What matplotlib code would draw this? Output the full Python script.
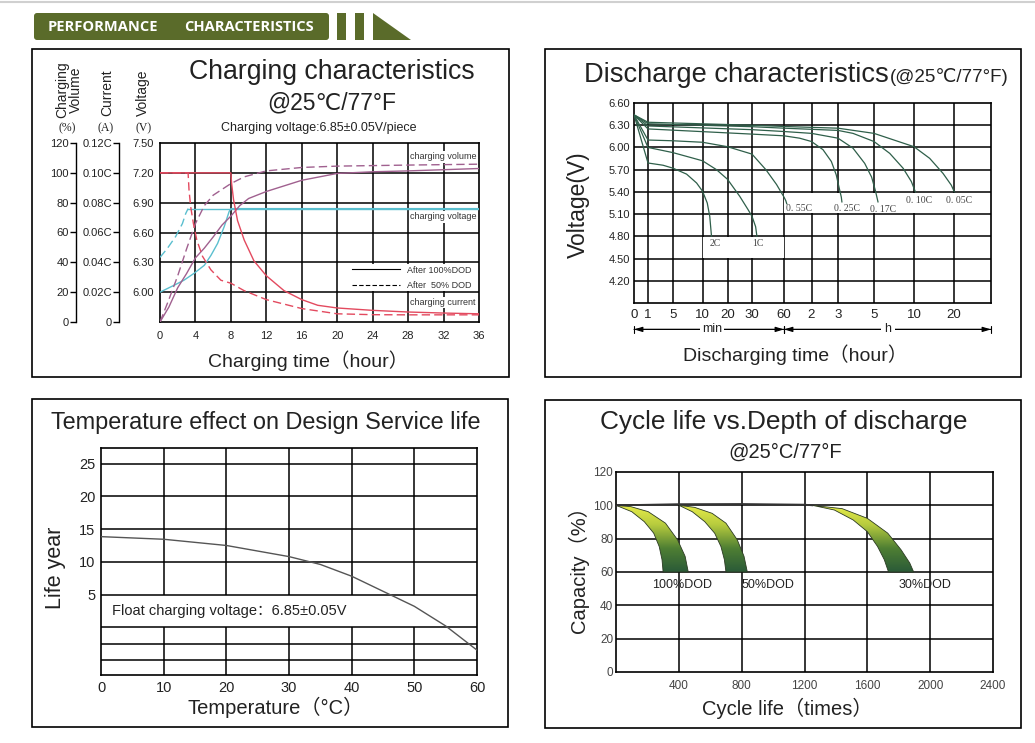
import numpy as np
import matplotlib
matplotlib.use("Agg")
import matplotlib.pyplot as plt
import matplotlib.transforms as mtransforms
from matplotlib.patches import Rectangle, Polygon, FancyBboxPatch
from matplotlib.lines import Line2D
from matplotlib.colors import LinearSegmentedColormap

plt.rcParams['font.family'] = ['Liberation Sans', 'DejaVu Sans', 'Noto Sans CJK SC']

# ---------------- charging characteristics ----------------
chg_hours = [0, 4, 8, 12, 16, 20, 24, 28, 32, 36]
chg_volt_ticks = [6.00, 6.30, 6.60, 6.90, 7.20, 7.50]
chg_vol_ticks = [0, 20, 40, 60, 80, 100, 120]
chg_cur_ticks = [0, 0.02, 0.04, 0.06, 0.08, 0.10, 0.12]
chg_cur_labels = ['0', '0.02C', '0.04C', '0.06C', '0.08C', '0.10C', '0.12C']

cur100_hr = [0, 8, 8.08, 8.3, 8.75, 9.5, 10.6, 12, 14, 16, 17.8, 20, 24, 28, 32, 36]
cur100_c = [0.100, 0.100, 0.093, 0.082, 0.068, 0.055, 0.041, 0.031, 0.021, 0.015,
            0.0112, 0.0094, 0.0078, 0.0067, 0.0060, 0.0055]
cur50_hr = [0, 3.17, 3.28, 3.47, 3.77, 4.15, 4.8, 5.74, 6.87, 8, 9.5, 12, 16, 20, 24, 28, 36]
cur50_c = [0.100, 0.100, 0.088, 0.077, 0.066, 0.055, 0.044, 0.035, 0.028, 0.026,
           0.021, 0.015, 0.009, 0.0055, 0.0049, 0.0048, 0.0048]
volt100_hr = [0, 1.6, 2.7, 3.85, 5.0, 5.75, 6.5, 7.25, 7.8, 8, 36]
volt100_v = [6.00, 6.07, 6.12, 6.19, 6.27, 6.37, 6.49, 6.66, 6.81, 6.84, 6.84]
volt50_hr = [0, 0.83, 1.77, 2.53, 2.9, 3.17, 36]
volt50_v = [6.35, 6.44, 6.56, 6.69, 6.79, 6.84, 6.84]
vol100_hr = [0, 1, 2, 3, 4, 5, 6, 7, 8, 9, 10, 12, 16, 20, 24, 28, 36]
vol100_pct = [0, 10, 23, 32.5, 43, 49.5, 57, 65, 71, 78, 82.8, 87.5, 95, 99.6, 100.7, 101.3, 102.9]
vol50_hr = [0, 1, 2, 3, 4, 5, 6, 8, 9.5, 12, 16, 20, 28, 36]
vol50_pct = [0, 15, 31, 49, 66, 78, 85, 92.8, 97.3, 101.3, 103.6, 104.5, 105.2, 105.8]

# ---------------- discharge characteristics (minutes / V) ----------------
dis_ticks_min = [0, 1, 5, 10, 20, 30, 60, 120, 180, 300, 600, 1200]
dis_tick_labels = ['0', '1', '5', '10', '20', '30', '60', '2', '3', '5', '10', '20']
dis_volt_ticks = [4.20, 4.50, 4.80, 5.10, 5.40, 5.70, 6.00, 6.30, 6.60]
# position of each tick along the (non uniform) printed axis
scale_min = [0, 1, 5, 10, 20, 30, 60, 120, 180, 300, 600, 1200, 2400]
scale_pos = [0, 14, 39, 68.5, 93.5, 118, 150, 177.5, 204, 240, 280, 320, 357]

t_2c = [0, 1, 3.4, 5, 7.3, 9, 10, 11.9, 12.9, 13.6]
v_2c = [6.44, 5.79, 5.76, 5.72, 5.64, 5.52, 5.41, 5.25, 5.07, 4.80]
t_1c = [0, 1, 5, 10, 15.6, 20, 25, 28.4, 30, 33.4, 34.6]
v_1c = [6.44, 6.00, 5.93, 5.82, 5.70, 5.57, 5.34, 5.16, 5.07, 4.93, 4.80]
t_055c = [0, 1, 5, 10, 20, 30, 43, 53, 60, 64, 66]
v_055c = [6.44, 6.10, 6.09, 6.07, 6.01, 5.91, 5.70, 5.50, 5.33, 5.28, 5.24]
t_025c = [0, 1, 30, 60, 94, 120, 146, 165, 176, 183, 191, 193]
v_025c = [6.44, 6.25, 6.18, 6.157, 6.125, 6.08, 5.97, 5.81, 5.63, 5.47, 5.33, 5.265]
t_017c = [0, 1, 30, 60, 120, 180, 230, 269, 292, 310, 330]
v_017c = [6.44, 6.29, 6.24, 6.215, 6.19, 6.125, 5.99, 5.785, 5.60, 5.42, 5.265]
t_010c = [0, 1, 30, 60, 180, 230, 300, 418, 518, 580, 621]
v_010c = [6.44, 6.32, 6.28, 6.26, 6.23, 6.19, 6.08, 5.92, 5.72, 5.54, 5.40]
t_005c = [0, 1, 30, 60, 180, 300, 600, 835, 1035, 1160, 1210]
v_005c = [6.44, 6.34, 6.30, 6.283, 6.26, 6.19, 6.01, 5.853, 5.65, 5.49, 5.40]
dis_names = ['2C', '1C', '0. 55C', '0. 25C', '0. 17C', '0. 10C', '0. 05C']
dis_label_t = [12.9, 30, 64, 170, 286, 538, 1076]
dis_label_v = [4.71, 4.71, 5.18, 5.18, 5.165, 5.285, 5.285]

# ---------------- temperature effect ----------------
temp_ticks = [0, 10, 20, 30, 40, 50, 60]
life_ticks = [5, 10, 15, 20, 25]
life_grid = [25, 20, 15, 10, 5, 0, -2.5, -5]
temp_c = [0, 10, 20, 30, 35, 40, 45, 50, 55, 60]
life_yr = [13.85, 13.45, 12.5, 10.8, 9.6, 7.8, 5.5, 3.2, 0.2, -3.5]

# ---------------- cycle life ----------------
cyc_ticks = [400, 800, 1200, 1600, 2000, 2400]
cap_ticks = [0, 20, 40, 60, 80, 100, 120]
top_x = [0, 400, 800, 1200, 1250]
top_y = [100, 100.7, 100.8, 100.4, 100]
dod100_outer_x = [0, 95, 205, 315, 392, 440, 460]
dod100_outer_y = [100, 99.2, 96.2, 89.3, 79.3, 69.4, 60]
dod100_inner_x = [0, 100, 180, 240, 275, 293, 300]
dod100_inner_y = [100, 96.2, 90.2, 83.3, 75.3, 67.4, 60]
dod50_outer_x = [401, 500, 612, 700, 772, 815, 836]
dod50_outer_y = [100, 98.8, 95.2, 89.3, 79.3, 69.4, 60]
dod50_inner_x = [401, 485, 565, 628, 668, 690, 700]
dod50_inner_y = [100, 96.2, 90.2, 83.3, 75.3, 67.4, 60]
dod30_outer_x = [1250, 1440, 1600, 1730, 1815, 1870, 1895]
dod30_outer_y = [100, 98, 92.2, 83.3, 73.3, 65.4, 60]
dod30_inner_x = [1250, 1390, 1510, 1600, 1665, 1708, 1735]
dod30_inner_y = [100, 97.2, 91.2, 84.2, 75.3, 67.4, 60]
dod_names = ['100%DOD', '50%DOD', '30%DOD']
dod_label_x = [418, 966, 1964]
dod_label_y = [52.2, 52.2, 52.2]

# ---------------- figure ----------------
W, H = 1035, 743
fig = plt.figure(figsize=(W / 100, H / 100), dpi=100)
bg = fig.add_axes([0, 0, 1, 1])
bg.set_xlim(0, W)
bg.set_ylim(H, 0)
bg.axis('off')


def px_axes(x0, y0, x1, y1):
    return fig.add_axes([x0 / W, 1 - y1 / H, (x1 - x0) / W, (y1 - y0) / H])


olive = '#5a6b2a'
ink = '#222222'
bg.plot([0, W], [1.5, 1.5], color='#d0d0d0', lw=1.5)
bg.add_patch(FancyBboxPatch((34, 13), 295, 27, boxstyle='round,pad=0,rounding_size=3',
                            fc=olive, ec='none'))
bg.add_patch(Rectangle((337, 13), 9, 27, fc=olive, ec='none'))
bg.add_patch(Rectangle((355, 13), 9, 27, fc=olive, ec='none'))
bg.add_patch(Polygon([(373, 13), (373, 40), (411, 40)], closed=True, fc=olive, ec='none'))
bg.text(48, 27, 'PERFORMANCE', color='white', fontsize=10.5, fontweight='bold',
        family='Open Sans', va='center', ha='left')
bg.text(184, 27, 'CHARACTERISTICS', color='white', fontsize=10.5, fontweight='bold',
        family='Open Sans', va='center', ha='left')

for x0, y0, x1, y1 in [(32, 49, 509, 377), (545, 49, 1021, 377),
                       (32, 399, 508, 727), (545, 400, 1021, 728)]:
    bg.add_patch(Rectangle((x0, y0), x1 - x0, y1 - y0, fill=False, ec='black', lw=1.2))

red, purple, cyan = '#e34a5f', '#a0608f', '#5bbfcf'
dash = (0, (6, 3))

# ===== panel 1 : charging =====
bg.text(332, 72, 'Charging characteristics', fontsize=19.2, color=ink, ha='center', va='center')
bg.text(332, 103, '@25℃/77°F', fontsize=16.5, color=ink, ha='center', va='center')
bg.text(319, 128, 'Charging voltage:6.85±0.05V/piece', fontsize=9, color=ink, ha='center', va='center')
bg.text(308, 361, 'Charging time（hour）', fontsize=14, color=ink, ha='center', va='center')
bg.text(69, 118, 'Charging\nVolume', rotation=90, ha='center', va='bottom', fontsize=10,
        linespacing=0.95, multialignment='center', color=ink)
bg.text(107, 116, 'Current', rotation=90, ha='center', va='bottom', fontsize=10, color=ink)
bg.text(143, 116, 'Voltage', rotation=90, ha='center', va='bottom', fontsize=10, color=ink)
for xx, unit in [(67, '(%)'), (106, '(A)'), (144, '(V)')]:
    bg.text(xx, 128, unit, fontsize=8.5, family='Liberation Serif', ha='center', va='center', color=ink)

ax1 = px_axes(160, 143, 479, 322)
ax1.set_xlim(0, 36)
ax1.set_ylim(5.70, 7.50)
for h in chg_hours[1:-1]:
    ax1.axvline(h, color='black', lw=1.1, zorder=1)
ax1.add_patch(Rectangle((21.5, 6.012), 14.5, 0.276, fc='white', ec='none', zorder=1.5))
for v in chg_volt_ticks[:-1]:
    ax1.axhline(v, color='black', lw=1.1, zorder=2)
ax1.set_xticks(chg_hours)
ax1.set_yticks(chg_volt_ticks, ['%.2f' % v for v in chg_volt_ticks])
ax1.tick_params(length=0, labelsize=8, labelcolor=ink)
ax1.tick_params(axis='y', pad=4.3)
ax1.tick_params(axis='x', pad=6.5)
for s in ax1.spines.values():
    s.set_linewidth(1.2)
ax1.plot(volt100_hr, volt100_v, color=cyan, lw=1, zorder=3)
ax1.plot(volt50_hr[:6], volt50_v[:6], color=cyan, lw=1, ls=dash, zorder=3)
ax1.plot(volt50_hr[5:], volt50_v[5:], color=cyan, lw=1, zorder=3)
for txt, yv in [('charging volume', 7.36), ('charging voltage', 6.756), ('charging current', 5.90)]:
    ax1.text(28.2, yv, txt, fontsize=6.5, color='#333333', ha='left', va='center', zorder=2.5,
             bbox=dict(fc='white', ec='none', pad=0.8))
leg_handles = [Line2D([], [], color='black', lw=0.8),
               Line2D([], [], color='black', lw=0.8, ls=(0, (4, 2)))]
ax1.legend(leg_handles, ['After 100%DOD', 'After  50% DOD'], loc='center left',
           bbox_to_anchor=((352 - 160) / 319, (322 - 278) / 179), frameon=False,
           fontsize=6.5, handlelength=5.3, handletextpad=0.8, labelspacing=0.75,
           borderpad=0, borderaxespad=0, labelcolor='#333333')

ax_vol = ax1.twinx()
ax_cur = ax1.twinx()
for tw, xpos, lim, ticks, labels in [(ax_vol, 76, (0, 120), chg_vol_ticks, [str(t) for t in chg_vol_ticks]),
                                     (ax_cur, 119.3, (0, 0.12), chg_cur_ticks, chg_cur_labels)]:
    for s in ['right', 'top', 'bottom']:
        tw.spines[s].set_visible(False)
    tw.spines['left'].set_position(('axes', (xpos - 160) / 319))
    tw.spines['left'].set_linewidth(1)
    tw.yaxis.set_ticks_position('left')
    tw.set_ylim(*lim)
    tw.set_yticks(ticks, labels)
    tw.tick_params(axis='y', direction='out', length=4.3, width=1, labelsize=8, pad=1, labelcolor=ink)

ax_vol.plot(vol100_hr, vol100_pct, color=purple, lw=1, zorder=3)
ax_vol.plot(vol50_hr, vol50_pct, color=purple, lw=1, ls=dash, zorder=3)
ax_cur.plot(cur100_hr, cur100_c, color=red, lw=1, zorder=3)
ax_cur.plot(cur50_hr, cur50_c, color=red, lw=1, ls=dash, zorder=3)

# ===== panel 2 : discharge =====
bg.text(584, 82, 'Discharge characteristics', fontsize=19.6, color=ink, ha='left', va='baseline')
bg.text(890, 82, '(@25℃/77°F)', fontsize=13.5, color=ink, ha='left', va='baseline')
bg.text(578, 205, 'Voltage(V)', rotation=90, fontsize=16.5, color=ink, ha='center', va='center')
bg.text(795, 355, 'Discharging time（hour）', fontsize=14, color=ink, ha='center', va='center')


def fwd(t):
    return np.interp(t, scale_min, scale_pos)


def inv(p):
    return np.interp(p, scale_pos, scale_min)


ax2 = px_axes(634, 103, 991, 303)
ax2.set_xscale('function', functions=(fwd, inv))
ax2.set_xlim(0, 2400)
ax2.set_ylim(3.90, 6.60)
for t in dis_ticks_min[1:]:
    ax2.axvline(t, color='black', lw=1.1, zorder=1)
ax2.add_patch(Rectangle((60.5, 5.11), 2339, 0.28, fc='white', ec='none', zorder=1.5))
ax2.add_patch(Rectangle((10.2, 4.51), 49.6, 0.28, fc='white', ec='none', zorder=1.5))
for v in dis_volt_ticks[:-1]:
    ax2.axhline(v, color='black', lw=1.1, zorder=2)
ax2.set_xticks(dis_ticks_min, dis_tick_labels)
ax2.minorticks_off()
ax2.set_yticks(dis_volt_ticks, ['%.2f' % v for v in dis_volt_ticks])
ax2.tick_params(length=0, labelcolor=ink)
ax2.tick_params(axis='x', labelsize=9.5, pad=4)
ax2.tick_params(axis='y', labelsize=8, pad=3)
for s in ax2.spines.values():
    s.set_linewidth(1.2)
dgreen = '#2f5f4a'
for tt, vv in [(t_2c, v_2c), (t_1c, v_1c), (t_055c, v_055c), (t_025c, v_025c),
               (t_017c, v_017c), (t_010c, v_010c), (t_005c, v_005c)]:
    ax2.plot(tt, vv, color=dgreen, lw=0.9, zorder=3)
for name, lt, lv in zip(dis_names, dis_label_t, dis_label_v):
    ax2.text(lt, lv, name, fontsize=7, family='Liberation Serif', color='#444444',
             ha='left', va='center', zorder=4)
btr = mtransforms.blended_transform_factory(ax2.transData, ax2.transAxes)
for a, b in [(0, 60), (60, 2400)]:
    ax2.annotate('', xy=(a, -0.132), xytext=(b, -0.132), xycoords=btr, textcoords=btr,
                 annotation_clip=False,
                 arrowprops=dict(arrowstyle='<|-|>,head_length=0.5,head_width=0.15',
                                 color='black', lw=0.8, shrinkA=0, shrinkB=0))
    ax2.annotate('', xy=(a, -0.132), xytext=(b, -0.132), xycoords=btr, textcoords=btr,
                 annotation_clip=False,
                 arrowprops=dict(arrowstyle='|-|,widthA=0.25,widthB=0.25',
                                 color='black', lw=0.8, shrinkA=0, shrinkB=0))
ax2.text(13.8, -0.132, 'min', transform=btr, fontsize=9, color=ink, ha='center', va='center',
         bbox=dict(fc='white', ec='none', pad=1.5), zorder=5)
ax2.text(405, -0.132, 'h', transform=btr, fontsize=9, color=ink, ha='center', va='center',
         bbox=dict(fc='white', ec='none', pad=2.5), zorder=5)

# ===== panel 3 : temperature =====
bg.text(266, 423, 'Temperature effect on Design Service life', fontsize=16.9, color=ink,
        ha='center', va='center')
bg.text(56, 568, 'Life year', rotation=90, fontsize=15.5, color=ink, ha='center', va='center')
bg.text(276, 707, 'Temperature（°C）', fontsize=14.5, color=ink, ha='center', va='center')

ax3 = px_axes(101, 448, 477, 675)
ax3.set_xlim(0, 60)
ax3.set_ylim(-7.3, 27.4)
for t in temp_ticks[1:-1]:
    ax3.axvline(t, color='black', lw=1.1, zorder=1)
ax3.axhspan(0, 5, fc='white', ec='none', zorder=1.5)
for v in life_grid:
    ax3.axhline(v, color='black', lw=1.1, zorder=2)
ax3.plot(temp_c, life_yr, color='#555555', lw=1, zorder=3)
ax3.text(1.7, 2.45, 'Float charging voltage：6.85±0.05V', fontsize=10.5, color=ink,
         ha='left', va='center', zorder=4)
ax3.set_xticks(temp_ticks)
ax3.set_yticks(life_ticks)
ax3.tick_params(length=0, labelsize=10.5, labelcolor=ink)
ax3.tick_params(axis='x', pad=4)
ax3.tick_params(axis='y', pad=4)
for s in ax3.spines.values():
    s.set_linewidth(1.2)

# ===== panel 4 : cycle life =====
bg.text(784, 422, 'Cycle life vs.Depth of discharge', fontsize=18.9, color=ink,
        ha='center', va='center')
bg.text(785, 452, '@25°C/77°F', fontsize=14.5, color=ink, ha='center', va='center')
bg.text(578, 565, 'Capacity（%）', rotation=90, fontsize=14.5, color=ink, ha='center', va='center')
bg.text(787, 708, 'Cycle life（times）', fontsize=14.5, color=ink, ha='center', va='center')

ax4 = px_axes(616, 472, 993, 672)
for t in cyc_ticks[:-1]:
    ax4.axvline(t, color='black', lw=1.1, zorder=1)
for v in cap_ticks[1:-1]:
    ax4.axhline(v, color='black', lw=1.1, zorder=1)
ax4.plot(top_x, top_y, color='#333333', lw=1.3, zorder=5)
grad_cmap = LinearSegmentedColormap.from_list(
    'dod', [(0, '#2a5a38'), (0.35, '#4f7f33'), (0.7, '#b8cc3e'), (1, '#eaee4a')])
grad = np.linspace(0, 1, 256).reshape(-1, 1)
for ox, oy, ix, iy in [(dod100_outer_x, dod100_outer_y, dod100_inner_x, dod100_inner_y),
                       (dod50_outer_x, dod50_outer_y, dod50_inner_x, dod50_inner_y),
                       (dod30_outer_x, dod30_outer_y, dod30_inner_x, dod30_inner_y)]:
    verts = list(zip(ox, oy)) + list(zip(ix[::-1], iy[::-1]))
    poly = Polygon(verts, closed=True, fc='none', ec='#2b3a22', lw=0.6, zorder=4)
    ax4.add_patch(poly)
    im = ax4.imshow(grad, extent=[min(ix), max(ox), 60, 100.5], origin='lower',
                    cmap=grad_cmap, aspect='auto', zorder=3, interpolation='bilinear')
    im.set_clip_path(poly)
for name, lx, ly in zip(dod_names, dod_label_x, dod_label_y):
    ax4.text(lx, ly, name, fontsize=9, color=ink, ha='center', va='center')
ax4.set_xlim(0, 2400)
ax4.set_ylim(0, 120)
ax4.set_xticks(cyc_ticks)
ax4.set_yticks(cap_ticks)
ax4.tick_params(length=0, labelsize=8.5, labelcolor='#444444')
ax4.tick_params(axis='x', pad=6)
ax4.tick_params(axis='y', pad=2)
for s in ax4.spines.values():
    s.set_linewidth(1.2)

fig.savefig('out.png', dpi=100)
